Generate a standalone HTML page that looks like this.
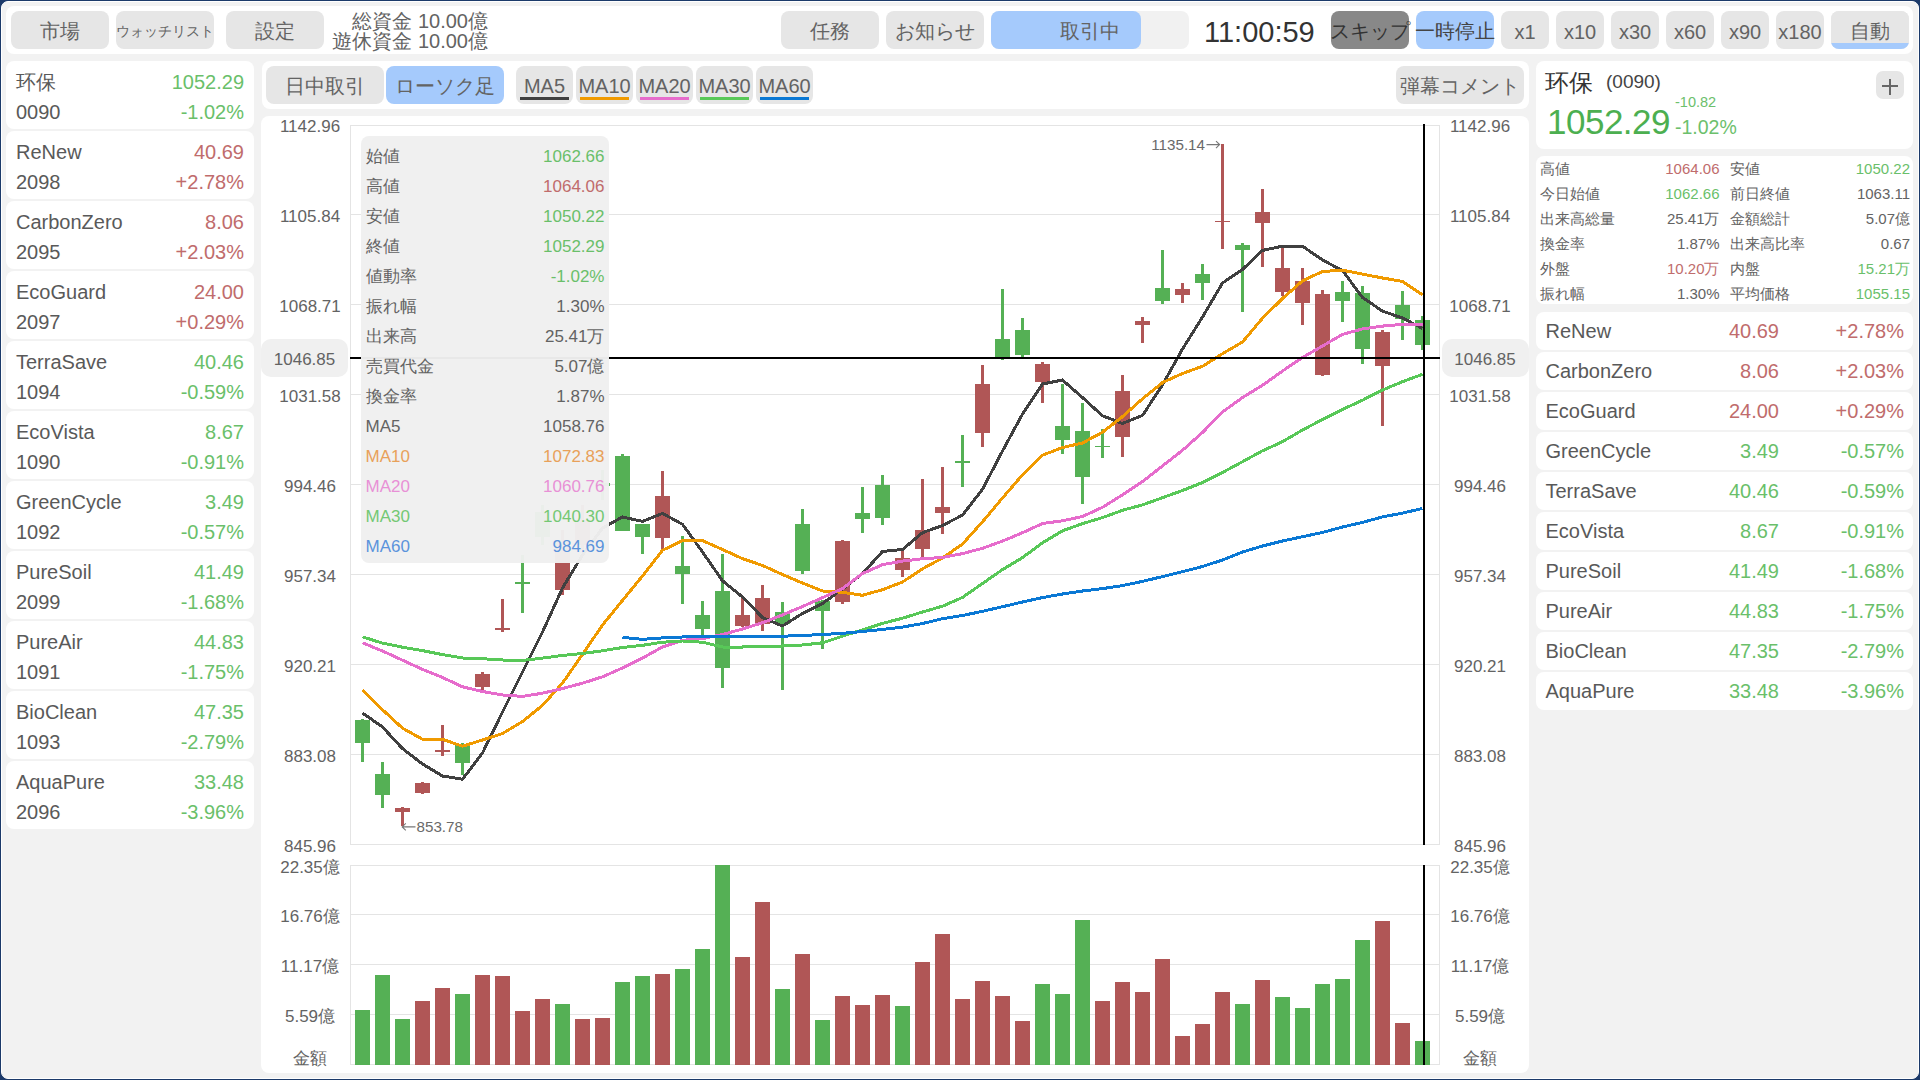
<!DOCTYPE html>
<html><head><meta charset="utf-8"><style>
*{margin:0;padding:0;box-sizing:border-box}
html,body{width:1920px;height:1080px;overflow:hidden;background:#1c3a6a}
body{position:relative;font-family:"Liberation Sans",sans-serif}
#app{position:absolute;left:1px;top:1px;width:1918px;height:1078px;background:#f2f2f2;border:1px solid #fff;border-radius:7px}
.b{position:absolute}
.t{position:absolute;white-space:nowrap}
svg{position:absolute;left:0;top:0}
</style></head><body><div id="app"></div>

<div class="b" style="left:6px;top:6px;width:1907px;height:48px;background:#fff;border-radius:8px;"></div>
<div class="b" style="left:11px;top:11px;width:98px;height:38px;background:#e6e6e6;border-radius:8px;"></div>
<div class="t" style="left:-9.0px;width:138px;text-align:center;top:18.2px;font-size:20px;line-height:26px;color:#636363;">市場</div>
<div class="b" style="left:116px;top:11px;width:98px;height:38px;background:#e6e6e6;border-radius:8px;"></div>
<div class="t" style="left:96.0px;width:138px;text-align:center;top:22.2px;font-size:14px;line-height:18px;color:#636363;">ウォッチリスト</div>
<div class="b" style="left:226px;top:11px;width:98px;height:38px;background:#e6e6e6;border-radius:8px;"></div>
<div class="t" style="left:206.0px;width:138px;text-align:center;top:18.2px;font-size:20px;line-height:26px;color:#636363;">設定</div>
<div class="t" style="left:88px;width:400px;text-align:right;top:11.0px;font-size:20px;line-height:20px;color:#636363;">総資金 10.00億</div>
<div class="t" style="left:88px;width:400px;text-align:right;top:31.0px;font-size:20px;line-height:20px;color:#636363;">遊休資金 10.00億</div>
<div class="b" style="left:781px;top:11px;width:98px;height:38px;background:#e6e6e6;border-radius:8px;"></div>
<div class="t" style="left:761.0px;width:138px;text-align:center;top:18.2px;font-size:20px;line-height:26px;color:#636363;">任務</div>
<div class="b" style="left:886px;top:11px;width:98px;height:38px;background:#e6e6e6;border-radius:8px;"></div>
<div class="t" style="left:866.0px;width:138px;text-align:center;top:18.2px;font-size:20px;line-height:26px;color:#636363;">お知らせ</div>
<div class="b" style="left:991px;top:11px;width:198px;height:38px;background:#f1f1f1;border-radius:8px;"></div>
<div class="b" style="left:991px;top:11px;width:150px;height:38px;background:#a5cafc;border-radius:8px;"></div>
<div class="t" style="left:989.5px;width:200px;text-align:center;top:18.2px;font-size:20px;line-height:26px;color:#636363;">取引中</div>
<div class="t" style="left:1204px;top:15.0px;font-size:29px;line-height:34px;color:#333;">11:00:59</div>
<div class="b" style="left:1331px;top:11px;width:78px;height:38px;background:#888;border-radius:8px;"></div>
<div class="t" style="left:1311.0px;width:118px;text-align:center;top:18.2px;font-size:20px;line-height:26px;color:#333;">スキップ</div>
<div class="b" style="left:1416px;top:11px;width:78px;height:38px;background:#a5cafc;border-radius:8px;"></div>
<div class="t" style="left:1396.0px;width:118px;text-align:center;top:18.2px;font-size:20px;line-height:26px;color:#444;">一時停止</div>
<div class="b" style="left:1501px;top:11px;width:48px;height:38px;background:#e6e6e6;border-radius:8px;"></div>
<div class="t" style="left:1481.0px;width:88px;text-align:center;top:19.2px;font-size:20px;line-height:26px;color:#636363;">x1</div>
<div class="b" style="left:1556px;top:11px;width:48px;height:38px;background:#e6e6e6;border-radius:8px;"></div>
<div class="t" style="left:1536.0px;width:88px;text-align:center;top:19.2px;font-size:20px;line-height:26px;color:#636363;">x10</div>
<div class="b" style="left:1611px;top:11px;width:48px;height:38px;background:#e6e6e6;border-radius:8px;"></div>
<div class="t" style="left:1591.0px;width:88px;text-align:center;top:19.2px;font-size:20px;line-height:26px;color:#636363;">x30</div>
<div class="b" style="left:1666px;top:11px;width:48px;height:38px;background:#e6e6e6;border-radius:8px;"></div>
<div class="t" style="left:1646.0px;width:88px;text-align:center;top:19.2px;font-size:20px;line-height:26px;color:#636363;">x60</div>
<div class="b" style="left:1721px;top:11px;width:48px;height:38px;background:#e6e6e6;border-radius:8px;"></div>
<div class="t" style="left:1701.0px;width:88px;text-align:center;top:19.2px;font-size:20px;line-height:26px;color:#636363;">x90</div>
<div class="b" style="left:1776px;top:11px;width:48px;height:38px;background:#e6e6e6;border-radius:8px;"></div>
<div class="t" style="left:1756.0px;width:88px;text-align:center;top:19.2px;font-size:20px;line-height:26px;color:#636363;">x180</div>
<div class="b" style="left:1831px;top:11px;width:78px;height:38px;background:#e6e6e6;border-radius:8px;"></div>
<div class="b" style="left:1831px;top:11px;width:78px;height:38px;background:#a5cafc;border-radius:8px;clip-path:inset(32px 0 0 0);"></div>
<div class="b" style="left:1831px;top:11px;width:78px;height:32px;background:#e6e6e6;border-radius:8px;border-bottom-left-radius:0;border-bottom-right-radius:0;"></div>
<div class="t" style="left:1820.0px;width:100px;text-align:center;top:18.2px;font-size:20px;line-height:26px;color:#636363;">自動</div>
<div class="b" style="left:6px;top:61px;width:248px;height:68px;background:#fff;border-radius:8px;"></div>
<div class="t" style="left:16px;top:68.5px;font-size:20px;line-height:26px;color:#595959;">环保</div>
<div class="t" style="left:16px;top:98.5px;font-size:20px;line-height:26px;color:#595959;">0090</div>
<div class="t" style="left:94px;width:150px;text-align:right;top:68.5px;font-size:20px;line-height:26px;color:#6abf6a;">1052.29</div>
<div class="t" style="left:94px;width:150px;text-align:right;top:98.5px;font-size:20px;line-height:26px;color:#6abf6a;">-1.02%</div>
<div class="b" style="left:6px;top:131px;width:248px;height:68px;background:#fff;border-radius:8px;"></div>
<div class="t" style="left:16px;top:138.5px;font-size:20px;line-height:26px;color:#595959;">ReNew</div>
<div class="t" style="left:16px;top:168.5px;font-size:20px;line-height:26px;color:#595959;">2098</div>
<div class="t" style="left:94px;width:150px;text-align:right;top:138.5px;font-size:20px;line-height:26px;color:#c06c6c;">40.69</div>
<div class="t" style="left:94px;width:150px;text-align:right;top:168.5px;font-size:20px;line-height:26px;color:#c06c6c;">+2.78%</div>
<div class="b" style="left:6px;top:201px;width:248px;height:68px;background:#fff;border-radius:8px;"></div>
<div class="t" style="left:16px;top:208.5px;font-size:20px;line-height:26px;color:#595959;">CarbonZero</div>
<div class="t" style="left:16px;top:238.5px;font-size:20px;line-height:26px;color:#595959;">2095</div>
<div class="t" style="left:94px;width:150px;text-align:right;top:208.5px;font-size:20px;line-height:26px;color:#c06c6c;">8.06</div>
<div class="t" style="left:94px;width:150px;text-align:right;top:238.5px;font-size:20px;line-height:26px;color:#c06c6c;">+2.03%</div>
<div class="b" style="left:6px;top:271px;width:248px;height:68px;background:#fff;border-radius:8px;"></div>
<div class="t" style="left:16px;top:278.5px;font-size:20px;line-height:26px;color:#595959;">EcoGuard</div>
<div class="t" style="left:16px;top:308.5px;font-size:20px;line-height:26px;color:#595959;">2097</div>
<div class="t" style="left:94px;width:150px;text-align:right;top:278.5px;font-size:20px;line-height:26px;color:#c06c6c;">24.00</div>
<div class="t" style="left:94px;width:150px;text-align:right;top:308.5px;font-size:20px;line-height:26px;color:#c06c6c;">+0.29%</div>
<div class="b" style="left:6px;top:341px;width:248px;height:68px;background:#fff;border-radius:8px;"></div>
<div class="t" style="left:16px;top:348.5px;font-size:20px;line-height:26px;color:#595959;">TerraSave</div>
<div class="t" style="left:16px;top:378.5px;font-size:20px;line-height:26px;color:#595959;">1094</div>
<div class="t" style="left:94px;width:150px;text-align:right;top:348.5px;font-size:20px;line-height:26px;color:#6abf6a;">40.46</div>
<div class="t" style="left:94px;width:150px;text-align:right;top:378.5px;font-size:20px;line-height:26px;color:#6abf6a;">-0.59%</div>
<div class="b" style="left:6px;top:411px;width:248px;height:68px;background:#fff;border-radius:8px;"></div>
<div class="t" style="left:16px;top:418.5px;font-size:20px;line-height:26px;color:#595959;">EcoVista</div>
<div class="t" style="left:16px;top:448.5px;font-size:20px;line-height:26px;color:#595959;">1090</div>
<div class="t" style="left:94px;width:150px;text-align:right;top:418.5px;font-size:20px;line-height:26px;color:#6abf6a;">8.67</div>
<div class="t" style="left:94px;width:150px;text-align:right;top:448.5px;font-size:20px;line-height:26px;color:#6abf6a;">-0.91%</div>
<div class="b" style="left:6px;top:481px;width:248px;height:68px;background:#fff;border-radius:8px;"></div>
<div class="t" style="left:16px;top:488.5px;font-size:20px;line-height:26px;color:#595959;">GreenCycle</div>
<div class="t" style="left:16px;top:518.5px;font-size:20px;line-height:26px;color:#595959;">1092</div>
<div class="t" style="left:94px;width:150px;text-align:right;top:488.5px;font-size:20px;line-height:26px;color:#6abf6a;">3.49</div>
<div class="t" style="left:94px;width:150px;text-align:right;top:518.5px;font-size:20px;line-height:26px;color:#6abf6a;">-0.57%</div>
<div class="b" style="left:6px;top:551px;width:248px;height:68px;background:#fff;border-radius:8px;"></div>
<div class="t" style="left:16px;top:558.5px;font-size:20px;line-height:26px;color:#595959;">PureSoil</div>
<div class="t" style="left:16px;top:588.5px;font-size:20px;line-height:26px;color:#595959;">2099</div>
<div class="t" style="left:94px;width:150px;text-align:right;top:558.5px;font-size:20px;line-height:26px;color:#6abf6a;">41.49</div>
<div class="t" style="left:94px;width:150px;text-align:right;top:588.5px;font-size:20px;line-height:26px;color:#6abf6a;">-1.68%</div>
<div class="b" style="left:6px;top:621px;width:248px;height:68px;background:#fff;border-radius:8px;"></div>
<div class="t" style="left:16px;top:628.5px;font-size:20px;line-height:26px;color:#595959;">PureAir</div>
<div class="t" style="left:16px;top:658.5px;font-size:20px;line-height:26px;color:#595959;">1091</div>
<div class="t" style="left:94px;width:150px;text-align:right;top:628.5px;font-size:20px;line-height:26px;color:#6abf6a;">44.83</div>
<div class="t" style="left:94px;width:150px;text-align:right;top:658.5px;font-size:20px;line-height:26px;color:#6abf6a;">-1.75%</div>
<div class="b" style="left:6px;top:691px;width:248px;height:68px;background:#fff;border-radius:8px;"></div>
<div class="t" style="left:16px;top:698.5px;font-size:20px;line-height:26px;color:#595959;">BioClean</div>
<div class="t" style="left:16px;top:728.5px;font-size:20px;line-height:26px;color:#595959;">1093</div>
<div class="t" style="left:94px;width:150px;text-align:right;top:698.5px;font-size:20px;line-height:26px;color:#6abf6a;">47.35</div>
<div class="t" style="left:94px;width:150px;text-align:right;top:728.5px;font-size:20px;line-height:26px;color:#6abf6a;">-2.79%</div>
<div class="b" style="left:6px;top:761px;width:248px;height:68px;background:#fff;border-radius:8px;"></div>
<div class="t" style="left:16px;top:768.5px;font-size:20px;line-height:26px;color:#595959;">AquaPure</div>
<div class="t" style="left:16px;top:798.5px;font-size:20px;line-height:26px;color:#595959;">2096</div>
<div class="t" style="left:94px;width:150px;text-align:right;top:768.5px;font-size:20px;line-height:26px;color:#6abf6a;">33.48</div>
<div class="t" style="left:94px;width:150px;text-align:right;top:798.5px;font-size:20px;line-height:26px;color:#6abf6a;">-3.96%</div>
<div class="b" style="left:262px;top:61px;width:1267px;height:48px;background:#fff;border-radius:8px;"></div>
<div class="b" style="left:266px;top:66px;width:118px;height:38px;background:#e6e6e6;border-radius:8px;"></div>
<div class="t" style="left:246.0px;width:158px;text-align:center;top:73.2px;font-size:20px;line-height:26px;color:#636363;">日中取引</div>
<div class="b" style="left:386px;top:66px;width:118px;height:38px;background:#a5cafc;border-radius:8px;"></div>
<div class="t" style="left:366.0px;width:158px;text-align:center;top:73.2px;font-size:20px;line-height:26px;color:#636363;">ローソク足</div>
<div class="b" style="left:516px;top:66px;width:57px;height:38px;background:#e6e6e6;border-radius:8px;"></div>
<div class="b" style="left:520px;top:97px;width:49px;height:3px;background:#404040;border-radius:0px;"></div>
<div class="t" style="left:504.5px;width:80px;text-align:center;top:73.3px;font-size:20px;line-height:26px;color:#636363;">MA5</div>
<div class="b" style="left:576px;top:66px;width:57px;height:38px;background:#e6e6e6;border-radius:8px;"></div>
<div class="b" style="left:580px;top:97px;width:49px;height:3px;background:#f09a00;border-radius:0px;"></div>
<div class="t" style="left:564.5px;width:80px;text-align:center;top:73.3px;font-size:20px;line-height:26px;color:#636363;">MA10</div>
<div class="b" style="left:636px;top:66px;width:57px;height:38px;background:#e6e6e6;border-radius:8px;"></div>
<div class="b" style="left:640px;top:97px;width:49px;height:3px;background:#e66ccc;border-radius:0px;"></div>
<div class="t" style="left:624.5px;width:80px;text-align:center;top:73.3px;font-size:20px;line-height:26px;color:#636363;">MA20</div>
<div class="b" style="left:696px;top:66px;width:57px;height:38px;background:#e6e6e6;border-radius:8px;"></div>
<div class="b" style="left:700px;top:97px;width:49px;height:3px;background:#58c858;border-radius:0px;"></div>
<div class="t" style="left:684.5px;width:80px;text-align:center;top:73.3px;font-size:20px;line-height:26px;color:#636363;">MA30</div>
<div class="b" style="left:756px;top:66px;width:57px;height:38px;background:#e6e6e6;border-radius:8px;"></div>
<div class="b" style="left:760px;top:97px;width:49px;height:3px;background:#0a78d4;border-radius:0px;"></div>
<div class="t" style="left:744.5px;width:80px;text-align:center;top:73.3px;font-size:20px;line-height:26px;color:#636363;">MA60</div>
<div class="b" style="left:1396px;top:66px;width:128px;height:38px;background:#e6e6e6;border-radius:8px;"></div>
<div class="t" style="left:1376.0px;width:168px;text-align:center;top:73.2px;font-size:20px;line-height:26px;color:#636363;">弾幕コメント</div>
<div class="b" style="left:261px;top:116px;width:1268px;height:957px;background:#fff;border-radius:8px;"></div>
<div class="b" style="left:1536px;top:61px;width:377px;height:88px;background:#fff;border-radius:8px;"></div>
<div class="t" style="left:1545px;top:66.5px;font-size:24px;line-height:31px;color:#333;">环保</div>
<div class="t" style="left:1606px;top:68.5px;font-size:19px;line-height:25px;color:#444;">(0090)</div>
<div class="t" style="left:1547px;top:102.3px;font-size:35px;line-height:40px;color:#4caf50;letter-spacing:-0.5px;">1052.29</div>
<div class="t" style="left:1675px;top:92.9px;font-size:14.5px;line-height:19px;color:#6cc06c;">-10.82</div>
<div class="t" style="left:1675px;top:115.1px;font-size:19.5px;line-height:25px;color:#6cc06c;">-1.02%</div>
<div class="b" style="left:1876px;top:71px;width:28px;height:28px;background:#e6e6e6;border-radius:7px;"></div>
<div class="b" style="left:1882px;top:85.3px;width:16px;height:1.4000000000000057px;background:#666;border-radius:0px;"></div>
<div class="b" style="left:1889.3px;top:78.5px;width:1.400000000000091px;height:16.0px;background:#666;border-radius:0px;"></div>
<div class="b" style="left:1536px;top:156px;width:377px;height:148px;background:#fff;border-radius:8px;"></div>
<div class="t" style="left:1540px;top:159.0px;font-size:15px;line-height:20px;color:#636363;">高値</div>
<div class="t" style="left:1599.5px;width:120px;text-align:right;top:159.0px;font-size:15px;line-height:20px;color:#c06c6c;">1064.06</div>
<div class="t" style="left:1730px;top:159.0px;font-size:15px;line-height:20px;color:#636363;">安値</div>
<div class="t" style="left:1790px;width:120px;text-align:right;top:159.0px;font-size:15px;line-height:20px;color:#6abf6a;">1050.22</div>
<div class="t" style="left:1540px;top:184.0px;font-size:15px;line-height:20px;color:#636363;">今日始値</div>
<div class="t" style="left:1599.5px;width:120px;text-align:right;top:184.0px;font-size:15px;line-height:20px;color:#6abf6a;">1062.66</div>
<div class="t" style="left:1730px;top:184.0px;font-size:15px;line-height:20px;color:#636363;">前日終値</div>
<div class="t" style="left:1790px;width:120px;text-align:right;top:184.0px;font-size:15px;line-height:20px;color:#636363;">1063.11</div>
<div class="t" style="left:1540px;top:209.0px;font-size:15px;line-height:20px;color:#636363;">出来高総量</div>
<div class="t" style="left:1599.5px;width:120px;text-align:right;top:209.0px;font-size:15px;line-height:20px;color:#636363;">25.41万</div>
<div class="t" style="left:1730px;top:209.0px;font-size:15px;line-height:20px;color:#636363;">金額総計</div>
<div class="t" style="left:1790px;width:120px;text-align:right;top:209.0px;font-size:15px;line-height:20px;color:#636363;">5.07億</div>
<div class="t" style="left:1540px;top:234.0px;font-size:15px;line-height:20px;color:#636363;">換金率</div>
<div class="t" style="left:1599.5px;width:120px;text-align:right;top:234.0px;font-size:15px;line-height:20px;color:#636363;">1.87%</div>
<div class="t" style="left:1730px;top:234.0px;font-size:15px;line-height:20px;color:#636363;">出来高比率</div>
<div class="t" style="left:1790px;width:120px;text-align:right;top:234.0px;font-size:15px;line-height:20px;color:#636363;">0.67</div>
<div class="t" style="left:1540px;top:259.0px;font-size:15px;line-height:20px;color:#636363;">外盤</div>
<div class="t" style="left:1599.5px;width:120px;text-align:right;top:259.0px;font-size:15px;line-height:20px;color:#c06c6c;">10.20万</div>
<div class="t" style="left:1730px;top:259.0px;font-size:15px;line-height:20px;color:#636363;">内盤</div>
<div class="t" style="left:1790px;width:120px;text-align:right;top:259.0px;font-size:15px;line-height:20px;color:#6abf6a;">15.21万</div>
<div class="t" style="left:1540px;top:284.0px;font-size:15px;line-height:20px;color:#636363;">振れ幅</div>
<div class="t" style="left:1599.5px;width:120px;text-align:right;top:284.0px;font-size:15px;line-height:20px;color:#636363;">1.30%</div>
<div class="t" style="left:1730px;top:284.0px;font-size:15px;line-height:20px;color:#636363;">平均価格</div>
<div class="t" style="left:1790px;width:120px;text-align:right;top:284.0px;font-size:15px;line-height:20px;color:#6abf6a;">1055.15</div>
<div class="b" style="left:1536px;top:311.5px;width:377px;height:38.0px;background:#fff;border-radius:8px;"></div>
<div class="t" style="left:1545.5px;top:318.0px;font-size:20px;line-height:26px;color:#595959;">ReNew</div>
<div class="t" style="left:1629px;width:150px;text-align:right;top:318.0px;font-size:20px;line-height:26px;color:#c06c6c;">40.69</div>
<div class="t" style="left:1754px;width:150px;text-align:right;top:318.0px;font-size:20px;line-height:26px;color:#c06c6c;">+2.78%</div>
<div class="b" style="left:1536px;top:351.5px;width:377px;height:38.0px;background:#fff;border-radius:8px;"></div>
<div class="t" style="left:1545.5px;top:358.0px;font-size:20px;line-height:26px;color:#595959;">CarbonZero</div>
<div class="t" style="left:1629px;width:150px;text-align:right;top:358.0px;font-size:20px;line-height:26px;color:#c06c6c;">8.06</div>
<div class="t" style="left:1754px;width:150px;text-align:right;top:358.0px;font-size:20px;line-height:26px;color:#c06c6c;">+2.03%</div>
<div class="b" style="left:1536px;top:391.5px;width:377px;height:38.0px;background:#fff;border-radius:8px;"></div>
<div class="t" style="left:1545.5px;top:398.0px;font-size:20px;line-height:26px;color:#595959;">EcoGuard</div>
<div class="t" style="left:1629px;width:150px;text-align:right;top:398.0px;font-size:20px;line-height:26px;color:#c06c6c;">24.00</div>
<div class="t" style="left:1754px;width:150px;text-align:right;top:398.0px;font-size:20px;line-height:26px;color:#c06c6c;">+0.29%</div>
<div class="b" style="left:1536px;top:431.5px;width:377px;height:38.0px;background:#fff;border-radius:8px;"></div>
<div class="t" style="left:1545.5px;top:438.0px;font-size:20px;line-height:26px;color:#595959;">GreenCycle</div>
<div class="t" style="left:1629px;width:150px;text-align:right;top:438.0px;font-size:20px;line-height:26px;color:#6abf6a;">3.49</div>
<div class="t" style="left:1754px;width:150px;text-align:right;top:438.0px;font-size:20px;line-height:26px;color:#6abf6a;">-0.57%</div>
<div class="b" style="left:1536px;top:471.5px;width:377px;height:38.0px;background:#fff;border-radius:8px;"></div>
<div class="t" style="left:1545.5px;top:478.0px;font-size:20px;line-height:26px;color:#595959;">TerraSave</div>
<div class="t" style="left:1629px;width:150px;text-align:right;top:478.0px;font-size:20px;line-height:26px;color:#6abf6a;">40.46</div>
<div class="t" style="left:1754px;width:150px;text-align:right;top:478.0px;font-size:20px;line-height:26px;color:#6abf6a;">-0.59%</div>
<div class="b" style="left:1536px;top:511.5px;width:377px;height:38.0px;background:#fff;border-radius:8px;"></div>
<div class="t" style="left:1545.5px;top:518.0px;font-size:20px;line-height:26px;color:#595959;">EcoVista</div>
<div class="t" style="left:1629px;width:150px;text-align:right;top:518.0px;font-size:20px;line-height:26px;color:#6abf6a;">8.67</div>
<div class="t" style="left:1754px;width:150px;text-align:right;top:518.0px;font-size:20px;line-height:26px;color:#6abf6a;">-0.91%</div>
<div class="b" style="left:1536px;top:551.5px;width:377px;height:38.0px;background:#fff;border-radius:8px;"></div>
<div class="t" style="left:1545.5px;top:558.0px;font-size:20px;line-height:26px;color:#595959;">PureSoil</div>
<div class="t" style="left:1629px;width:150px;text-align:right;top:558.0px;font-size:20px;line-height:26px;color:#6abf6a;">41.49</div>
<div class="t" style="left:1754px;width:150px;text-align:right;top:558.0px;font-size:20px;line-height:26px;color:#6abf6a;">-1.68%</div>
<div class="b" style="left:1536px;top:591.5px;width:377px;height:38.0px;background:#fff;border-radius:8px;"></div>
<div class="t" style="left:1545.5px;top:598.0px;font-size:20px;line-height:26px;color:#595959;">PureAir</div>
<div class="t" style="left:1629px;width:150px;text-align:right;top:598.0px;font-size:20px;line-height:26px;color:#6abf6a;">44.83</div>
<div class="t" style="left:1754px;width:150px;text-align:right;top:598.0px;font-size:20px;line-height:26px;color:#6abf6a;">-1.75%</div>
<div class="b" style="left:1536px;top:631.5px;width:377px;height:38.0px;background:#fff;border-radius:8px;"></div>
<div class="t" style="left:1545.5px;top:638.0px;font-size:20px;line-height:26px;color:#595959;">BioClean</div>
<div class="t" style="left:1629px;width:150px;text-align:right;top:638.0px;font-size:20px;line-height:26px;color:#6abf6a;">47.35</div>
<div class="t" style="left:1754px;width:150px;text-align:right;top:638.0px;font-size:20px;line-height:26px;color:#6abf6a;">-2.79%</div>
<div class="b" style="left:1536px;top:671.5px;width:377px;height:38.0px;background:#fff;border-radius:8px;"></div>
<div class="t" style="left:1545.5px;top:678.0px;font-size:20px;line-height:26px;color:#595959;">AquaPure</div>
<div class="t" style="left:1629px;width:150px;text-align:right;top:678.0px;font-size:20px;line-height:26px;color:#6abf6a;">33.48</div>
<div class="t" style="left:1754px;width:150px;text-align:right;top:678.0px;font-size:20px;line-height:26px;color:#6abf6a;">-3.96%</div>
<svg width="1920" height="1080" viewBox="0 0 1920 1080" shape-rendering="crispEdges">
<rect x="350" y="125" width="1090" height="1" fill="#e4e4e4"/>
<rect x="350" y="214" width="1090" height="1" fill="#e4e4e4"/>
<rect x="350" y="304" width="1090" height="1" fill="#e4e4e4"/>
<rect x="350" y="394" width="1090" height="1" fill="#e4e4e4"/>
<rect x="350" y="484" width="1090" height="1" fill="#e4e4e4"/>
<rect x="350" y="574" width="1090" height="1" fill="#e4e4e4"/>
<rect x="350" y="664" width="1090" height="1" fill="#e4e4e4"/>
<rect x="350" y="754" width="1090" height="1" fill="#e4e4e4"/>
<rect x="350" y="844" width="1090" height="1" fill="#e4e4e4"/>
<rect x="350" y="125" width="1" height="720" fill="#e4e4e4"/>
<rect x="1439" y="125" width="1" height="720" fill="#e4e4e4"/>
<rect x="350" y="865" width="1090" height="1" fill="#e4e4e4"/>
<rect x="350" y="914" width="1090" height="1" fill="#e4e4e4"/>
<rect x="350" y="964" width="1090" height="1" fill="#e4e4e4"/>
<rect x="350" y="1014" width="1090" height="1" fill="#e4e4e4"/>
<rect x="350" y="1064" width="1090" height="1" fill="#e4e4e4"/>
<rect x="350" y="865" width="1" height="200" fill="#e4e4e4"/>
<rect x="1439" y="865" width="1" height="200" fill="#e4e4e4"/>
<rect x="355.0" y="1010" width="15" height="54.5" fill="#55b055"/>
<rect x="375.0" y="975" width="15" height="89.5" fill="#55b055"/>
<rect x="395.0" y="1019" width="15" height="45.5" fill="#55b055"/>
<rect x="415.0" y="1001" width="15" height="63.5" fill="#b05656"/>
<rect x="435.0" y="988" width="15" height="76.5" fill="#b05656"/>
<rect x="455.0" y="994" width="15" height="70.5" fill="#55b055"/>
<rect x="475.0" y="975" width="15" height="89.5" fill="#b05656"/>
<rect x="495.0" y="976" width="15" height="88.5" fill="#b05656"/>
<rect x="515.0" y="1011" width="15" height="53.5" fill="#b05656"/>
<rect x="535.0" y="999" width="15" height="65.5" fill="#b05656"/>
<rect x="555.0" y="1004" width="15" height="60.5" fill="#55b055"/>
<rect x="575.0" y="1019" width="15" height="45.5" fill="#b05656"/>
<rect x="595.0" y="1018" width="15" height="46.5" fill="#b05656"/>
<rect x="615.0" y="982" width="15" height="82.5" fill="#55b055"/>
<rect x="635.0" y="976" width="15" height="88.5" fill="#55b055"/>
<rect x="655.0" y="974" width="15" height="90.5" fill="#b05656"/>
<rect x="675.0" y="969" width="15" height="95.5" fill="#55b055"/>
<rect x="695.0" y="949" width="15" height="115.5" fill="#55b055"/>
<rect x="715.0" y="865" width="15" height="199.5" fill="#55b055"/>
<rect x="735.0" y="957" width="15" height="107.5" fill="#b05656"/>
<rect x="755.0" y="902" width="15" height="162.5" fill="#b05656"/>
<rect x="775.0" y="989" width="15" height="75.5" fill="#55b055"/>
<rect x="795.0" y="954" width="15" height="110.5" fill="#b05656"/>
<rect x="815.0" y="1020" width="15" height="44.5" fill="#55b055"/>
<rect x="835.0" y="996" width="15" height="68.5" fill="#b05656"/>
<rect x="855.0" y="1005" width="15" height="59.5" fill="#b05656"/>
<rect x="875.0" y="995" width="15" height="69.5" fill="#b05656"/>
<rect x="895.0" y="1006" width="15" height="58.5" fill="#55b055"/>
<rect x="915.0" y="962" width="15" height="102.5" fill="#b05656"/>
<rect x="935.0" y="934" width="15" height="130.5" fill="#b05656"/>
<rect x="955.0" y="999" width="15" height="65.5" fill="#b05656"/>
<rect x="975.0" y="981" width="15" height="83.5" fill="#b05656"/>
<rect x="995.0" y="996" width="15" height="68.5" fill="#b05656"/>
<rect x="1015.0" y="1021" width="15" height="43.5" fill="#b05656"/>
<rect x="1035.0" y="984" width="15" height="80.5" fill="#55b055"/>
<rect x="1055.0" y="994" width="15" height="70.5" fill="#55b055"/>
<rect x="1075.0" y="920" width="15" height="144.5" fill="#55b055"/>
<rect x="1095.0" y="1001" width="15" height="63.5" fill="#b05656"/>
<rect x="1115.0" y="982" width="15" height="82.5" fill="#b05656"/>
<rect x="1135.0" y="992" width="15" height="72.5" fill="#b05656"/>
<rect x="1155.0" y="959" width="15" height="105.5" fill="#b05656"/>
<rect x="1175.0" y="1036" width="15" height="28.5" fill="#b05656"/>
<rect x="1195.0" y="1024" width="15" height="40.5" fill="#b05656"/>
<rect x="1215.0" y="992" width="15" height="72.5" fill="#b05656"/>
<rect x="1235.0" y="1004" width="15" height="60.5" fill="#55b055"/>
<rect x="1255.0" y="980" width="15" height="84.5" fill="#b05656"/>
<rect x="1275.0" y="997" width="15" height="67.5" fill="#55b055"/>
<rect x="1295.0" y="1008" width="15" height="56.5" fill="#55b055"/>
<rect x="1315.0" y="984" width="15" height="80.5" fill="#55b055"/>
<rect x="1335.0" y="979" width="15" height="85.5" fill="#55b055"/>
<rect x="1355.0" y="940" width="15" height="124.5" fill="#55b055"/>
<rect x="1375.0" y="921" width="15" height="143.5" fill="#b05656"/>
<rect x="1395.0" y="1023" width="15" height="41.5" fill="#b05656"/>
<rect x="1415.0" y="1041" width="15" height="23.5" fill="#55b055"/>
<rect x="361.0" y="719" width="3" height="43.0" fill="#55b055"/>
<rect x="355.0" y="720" width="15" height="23.0" fill="#55b055"/>
<rect x="381.0" y="762" width="3" height="46.0" fill="#55b055"/>
<rect x="375.0" y="774" width="15" height="21.0" fill="#55b055"/>
<rect x="401.0" y="807" width="3" height="19.0" fill="#b05656"/>
<rect x="395.0" y="808" width="15" height="4.0" fill="#b05656"/>
<rect x="421.0" y="782" width="3" height="12.0" fill="#b05656"/>
<rect x="415.0" y="783" width="15" height="10.0" fill="#b05656"/>
<rect x="441.0" y="725" width="3" height="31.0" fill="#b05656"/>
<rect x="435.0" y="750" width="15" height="2.0" fill="#b05656"/>
<rect x="461.0" y="743" width="3" height="32.0" fill="#55b055"/>
<rect x="455.0" y="745" width="15" height="18.0" fill="#55b055"/>
<rect x="481.0" y="672" width="3" height="18.0" fill="#b05656"/>
<rect x="475.0" y="674" width="15" height="13.0" fill="#b05656"/>
<rect x="501.0" y="599" width="3" height="33.0" fill="#b05656"/>
<rect x="495.0" y="628" width="15" height="2.0" fill="#b05656"/>
<rect x="521.0" y="555" width="3" height="58.0" fill="#55b055"/>
<rect x="515.0" y="582" width="15" height="2.0" fill="#55b055"/>
<rect x="541.0" y="505" width="3" height="40.0" fill="#55b055"/>
<rect x="535.0" y="512" width="15" height="25.0" fill="#55b055"/>
<rect x="561.0" y="530" width="3" height="65.0" fill="#b05656"/>
<rect x="555.0" y="540" width="15" height="50.0" fill="#b05656"/>
<rect x="581.0" y="505" width="3" height="45.0" fill="#b05656"/>
<rect x="575.0" y="520" width="15" height="25.0" fill="#b05656"/>
<rect x="601.0" y="470" width="3" height="30.0" fill="#55b055"/>
<rect x="595.0" y="483" width="15" height="3.0" fill="#55b055"/>
<rect x="621.0" y="454" width="3" height="77.0" fill="#55b055"/>
<rect x="615.0" y="456" width="15" height="75.0" fill="#55b055"/>
<rect x="641.0" y="524" width="3" height="30.0" fill="#55b055"/>
<rect x="635.0" y="524" width="15" height="13.0" fill="#55b055"/>
<rect x="661.0" y="471" width="3" height="79.0" fill="#b05656"/>
<rect x="655.0" y="496" width="15" height="42.0" fill="#b05656"/>
<rect x="681.0" y="536" width="3" height="68.0" fill="#55b055"/>
<rect x="675.0" y="566" width="15" height="8.0" fill="#55b055"/>
<rect x="701.0" y="601" width="3" height="33.5" fill="#55b055"/>
<rect x="695.0" y="615" width="15" height="13.5" fill="#55b055"/>
<rect x="721.0" y="554" width="3" height="133.5" fill="#55b055"/>
<rect x="715.0" y="591" width="15" height="76.5" fill="#55b055"/>
<rect x="741.0" y="598" width="3" height="29.0" fill="#b05656"/>
<rect x="735.0" y="615" width="15" height="11.0" fill="#b05656"/>
<rect x="761.0" y="585" width="3" height="46.0" fill="#b05656"/>
<rect x="755.0" y="598" width="15" height="26.0" fill="#b05656"/>
<rect x="781.0" y="602" width="3" height="88.0" fill="#55b055"/>
<rect x="775.0" y="612" width="15" height="12.0" fill="#55b055"/>
<rect x="801.0" y="509" width="3" height="65.0" fill="#55b055"/>
<rect x="795.0" y="524" width="15" height="47.0" fill="#55b055"/>
<rect x="821.0" y="600" width="3" height="49.0" fill="#55b055"/>
<rect x="815.0" y="601" width="15" height="9.5" fill="#55b055"/>
<rect x="841.0" y="540" width="3" height="64.0" fill="#b05656"/>
<rect x="835.0" y="541" width="15" height="61.0" fill="#b05656"/>
<rect x="861.0" y="487" width="3" height="46.0" fill="#55b055"/>
<rect x="855.0" y="513" width="15" height="6.0" fill="#55b055"/>
<rect x="881.0" y="475" width="3" height="50.0" fill="#55b055"/>
<rect x="875.0" y="485" width="15" height="32.5" fill="#55b055"/>
<rect x="901.0" y="551" width="3" height="26.0" fill="#b05656"/>
<rect x="895.0" y="558" width="15" height="12.0" fill="#b05656"/>
<rect x="921.0" y="478.5" width="3" height="79.5" fill="#b05656"/>
<rect x="915.0" y="530" width="15" height="19.0" fill="#b05656"/>
<rect x="941.0" y="467" width="3" height="67.0" fill="#b05656"/>
<rect x="935.0" y="507" width="15" height="6.0" fill="#b05656"/>
<rect x="961.0" y="435" width="3" height="52.0" fill="#55b055"/>
<rect x="955.0" y="460.5" width="15" height="2.0" fill="#55b055"/>
<rect x="981.0" y="365" width="3" height="82.0" fill="#b05656"/>
<rect x="975.0" y="384" width="15" height="49.0" fill="#b05656"/>
<rect x="1001.0" y="289" width="3" height="71.0" fill="#55b055"/>
<rect x="995.0" y="339" width="15" height="20.0" fill="#55b055"/>
<rect x="1021.0" y="318" width="3" height="39.0" fill="#55b055"/>
<rect x="1015.0" y="330" width="15" height="25.0" fill="#55b055"/>
<rect x="1041.0" y="362" width="3" height="41.0" fill="#b05656"/>
<rect x="1035.0" y="364" width="15" height="18.0" fill="#b05656"/>
<rect x="1061.0" y="384" width="3" height="70.0" fill="#55b055"/>
<rect x="1055.0" y="426" width="15" height="14.0" fill="#55b055"/>
<rect x="1081.0" y="403" width="3" height="101.0" fill="#55b055"/>
<rect x="1075.0" y="431" width="15" height="46.0" fill="#55b055"/>
<rect x="1101.0" y="429" width="3" height="28.5" fill="#55b055"/>
<rect x="1095.0" y="445.5" width="15" height="1.5" fill="#55b055"/>
<rect x="1121.0" y="375" width="3" height="82.0" fill="#b05656"/>
<rect x="1115.0" y="391" width="15" height="46.0" fill="#b05656"/>
<rect x="1141.0" y="317" width="3" height="26.0" fill="#b05656"/>
<rect x="1135.0" y="321" width="15" height="3.5" fill="#b05656"/>
<rect x="1161.0" y="250" width="3" height="54.0" fill="#55b055"/>
<rect x="1155.0" y="288" width="15" height="13.0" fill="#55b055"/>
<rect x="1181.0" y="283" width="3" height="20.0" fill="#b05656"/>
<rect x="1175.0" y="289" width="15" height="5.5" fill="#b05656"/>
<rect x="1201.0" y="264" width="3" height="36.0" fill="#55b055"/>
<rect x="1195.0" y="274" width="15" height="8.5" fill="#55b055"/>
<rect x="1221.0" y="144" width="3" height="105.0" fill="#b05656"/>
<rect x="1215.0" y="220.5" width="15" height="1.5" fill="#b05656"/>
<rect x="1241.0" y="243" width="3" height="69.0" fill="#55b055"/>
<rect x="1235.0" y="245" width="15" height="5.0" fill="#55b055"/>
<rect x="1261.0" y="189" width="3" height="78.0" fill="#b05656"/>
<rect x="1255.0" y="212" width="15" height="11.0" fill="#b05656"/>
<rect x="1281.0" y="248" width="3" height="48.0" fill="#b05656"/>
<rect x="1275.0" y="268" width="15" height="24.0" fill="#b05656"/>
<rect x="1301.0" y="268" width="3" height="57.0" fill="#b05656"/>
<rect x="1295.0" y="281" width="15" height="22.0" fill="#b05656"/>
<rect x="1321.0" y="290" width="3" height="86.0" fill="#b05656"/>
<rect x="1315.0" y="294" width="15" height="81.0" fill="#b05656"/>
<rect x="1341.0" y="281" width="3" height="41.0" fill="#55b055"/>
<rect x="1335.0" y="292" width="15" height="9.0" fill="#55b055"/>
<rect x="1361.0" y="286" width="3" height="78.0" fill="#55b055"/>
<rect x="1355.0" y="293" width="15" height="56.0" fill="#55b055"/>
<rect x="1381.0" y="330" width="3" height="96.0" fill="#b05656"/>
<rect x="1375.0" y="332" width="15" height="34.0" fill="#b05656"/>
<rect x="1401.0" y="291" width="3" height="49.0" fill="#55b055"/>
<rect x="1395.0" y="304.5" width="15" height="14.5" fill="#55b055"/>
<rect x="1421.0" y="316" width="3" height="34.0" fill="#55b055"/>
<rect x="1415.0" y="320" width="15" height="25.0" fill="#55b055"/>
</svg>
<svg width="1920" height="1080" viewBox="0 0 1920 1080">
<polyline points="362.5,713 382.5,727 402.5,748.6 422.5,764 442.5,776 462.5,779.3 482.5,753 502.5,712 522.5,672 542.5,632 562.5,588 582.5,555 602.5,528 622.5,517 642.5,521.4 662.5,513.4 682.5,524.3 702.5,552 722.5,580.8 742.5,597 762.5,617.5 782.5,626 802.5,613.5 822.5,603.5 842.5,589 862.5,573.6 882.5,551.5 902.5,549.5 922.5,532.7 942.5,525.5 962.5,515.1 982.5,489.3 1002.5,451 1022.5,414 1042.5,384 1062.5,380 1082.5,397.5 1102.5,415.8 1122.5,423.5 1142.5,415.4 1162.5,385 1182.5,349 1202.5,317 1222.5,283 1242.5,269.5 1262.5,250.4 1282.5,246.2 1302.5,246.2 1322.5,260 1342.5,270.6 1362.5,297.4 1382.5,311.2 1402.5,318 1422.5,328.4" fill="none" stroke="#404040" stroke-width="3" stroke-linejoin="round" stroke-linecap="butt" shape-rendering="crispEdges"/>
<polyline points="362.5,713 382.5,727 402.5,748.6 422.5,764 442.5,776 462.5,779.3 482.5,753 502.5,712 522.5,672 542.5,632 562.5,588 582.5,555 602.5,528 622.5,517 642.5,521.4 662.5,513.4 682.5,524.3 702.5,552 722.5,580.8 742.5,597 762.5,617.5 782.5,626 802.5,613.5 822.5,603.5 842.5,589 862.5,573.6 882.5,551.5 902.5,549.5 922.5,532.7 942.5,525.5 962.5,515.1 982.5,489.3 1002.5,451 1022.5,414 1042.5,384 1062.5,380 1082.5,397.5 1102.5,415.8 1122.5,423.5 1142.5,415.4 1162.5,385 1182.5,349 1202.5,317 1222.5,283 1242.5,269.5 1262.5,250.4 1282.5,246.2 1302.5,246.2 1322.5,260 1342.5,270.6 1362.5,297.4 1382.5,311.2 1402.5,318 1422.5,328.4" fill="none" stroke="#404040" stroke-width="1.2" stroke-linejoin="round" stroke-linecap="butt" shape-rendering="crispEdges"/>
<polyline points="362.5,690.3 382.5,709.7 402.5,728.2 422.5,739.3 442.5,739.3 462.5,746.2 482.5,740 502.5,733.5 522.5,721.5 542.5,705.4 562.5,683.1 582.5,654.4 602.5,625 622.5,600.4 642.5,576 662.5,550.3 682.5,540.6 702.5,540.6 722.5,549.5 742.5,558.6 762.5,565.5 782.5,574.5 802.5,583 822.5,591 842.5,592.3 862.5,595.3 882.5,589.7 902.5,582 922.5,568.8 942.5,558 962.5,544 982.5,521.8 1002.5,498 1022.5,474.8 1042.5,455.2 1062.5,447.5 1082.5,443 1102.5,432.2 1122.5,416.6 1142.5,398.8 1162.5,382.6 1182.5,373.5 1202.5,366.3 1222.5,353.7 1242.5,342 1262.5,318.2 1282.5,298.5 1302.5,280.8 1322.5,271.5 1342.5,270.2 1362.5,274.1 1382.5,278 1402.5,281.4 1422.5,294.9" fill="none" stroke="#f09a00" stroke-width="3" stroke-linejoin="round" stroke-linecap="butt" shape-rendering="crispEdges"/>
<polyline points="362.5,690.3 382.5,709.7 402.5,728.2 422.5,739.3 442.5,739.3 462.5,746.2 482.5,740 502.5,733.5 522.5,721.5 542.5,705.4 562.5,683.1 582.5,654.4 602.5,625 622.5,600.4 642.5,576 662.5,550.3 682.5,540.6 702.5,540.6 722.5,549.5 742.5,558.6 762.5,565.5 782.5,574.5 802.5,583 822.5,591 842.5,592.3 862.5,595.3 882.5,589.7 902.5,582 922.5,568.8 942.5,558 962.5,544 982.5,521.8 1002.5,498 1022.5,474.8 1042.5,455.2 1062.5,447.5 1082.5,443 1102.5,432.2 1122.5,416.6 1142.5,398.8 1162.5,382.6 1182.5,373.5 1202.5,366.3 1222.5,353.7 1242.5,342 1262.5,318.2 1282.5,298.5 1302.5,280.8 1322.5,271.5 1342.5,270.2 1362.5,274.1 1382.5,278 1402.5,281.4 1422.5,294.9" fill="none" stroke="#f09a00" stroke-width="1.2" stroke-linejoin="round" stroke-linecap="butt" shape-rendering="crispEdges"/>
<polyline points="362.5,642.8 382.5,651 402.5,660.2 422.5,669.4 442.5,677.5 462.5,686.8 482.5,691.5 502.5,695 522.5,696.4 542.5,693.2 562.5,688.5 582.5,683.2 602.5,676.8 622.5,668 642.5,658 662.5,647 682.5,640.3 702.5,638.6 722.5,634.5 742.5,629 762.5,622.7 782.5,614.9 802.5,606.5 822.5,597.7 842.5,588.5 862.5,573.6 882.5,564.7 902.5,561.1 922.5,558.7 942.5,557.5 962.5,553.6 982.5,548.3 1002.5,541.1 1022.5,532.7 1042.5,523.5 1062.5,520.8 1082.5,516.5 1102.5,507.3 1122.5,494.8 1142.5,481.6 1162.5,465.9 1182.5,450.3 1202.5,432.5 1222.5,412 1242.5,397.5 1262.5,385.3 1282.5,371 1302.5,357.5 1322.5,346 1342.5,334.4 1362.5,328.9 1382.5,326.1 1402.5,324.4 1422.5,324.4" fill="none" stroke="#e66ccc" stroke-width="3" stroke-linejoin="round" stroke-linecap="butt" shape-rendering="crispEdges"/>
<polyline points="362.5,642.8 382.5,651 402.5,660.2 422.5,669.4 442.5,677.5 462.5,686.8 482.5,691.5 502.5,695 522.5,696.4 542.5,693.2 562.5,688.5 582.5,683.2 602.5,676.8 622.5,668 642.5,658 662.5,647 682.5,640.3 702.5,638.6 722.5,634.5 742.5,629 762.5,622.7 782.5,614.9 802.5,606.5 822.5,597.7 842.5,588.5 862.5,573.6 882.5,564.7 902.5,561.1 922.5,558.7 942.5,557.5 962.5,553.6 982.5,548.3 1002.5,541.1 1022.5,532.7 1042.5,523.5 1062.5,520.8 1082.5,516.5 1102.5,507.3 1122.5,494.8 1142.5,481.6 1162.5,465.9 1182.5,450.3 1202.5,432.5 1222.5,412 1242.5,397.5 1262.5,385.3 1282.5,371 1302.5,357.5 1322.5,346 1342.5,334.4 1362.5,328.9 1382.5,326.1 1402.5,324.4 1422.5,324.4" fill="none" stroke="#e66ccc" stroke-width="1.2" stroke-linejoin="round" stroke-linecap="butt" shape-rendering="crispEdges"/>
<polyline points="362.5,636.9 382.5,643.1 402.5,647.2 422.5,650.6 442.5,654.6 462.5,658 482.5,658.7 502.5,660 522.5,660.4 542.5,658.1 562.5,655.4 582.5,653.5 602.5,650.8 622.5,647.5 642.5,645.3 662.5,642.2 682.5,641 702.5,642.2 722.5,647 742.5,647 762.5,646.5 782.5,646 802.5,645 822.5,642.8 842.5,636.1 862.5,629.9 882.5,623.4 902.5,618.2 922.5,612 942.5,606.2 962.5,597.4 982.5,583.5 1002.5,569.6 1022.5,557.6 1042.5,542.8 1062.5,530.8 1082.5,523.6 1102.5,517.6 1122.5,510.3 1142.5,504.9 1162.5,497.7 1182.5,490.5 1202.5,482.5 1222.5,472.5 1242.5,461.7 1262.5,450.8 1282.5,441.7 1302.5,430 1322.5,419.5 1342.5,409.4 1362.5,400.2 1382.5,390 1402.5,381.7 1422.5,374.3" fill="none" stroke="#58c858" stroke-width="3" stroke-linejoin="round" stroke-linecap="butt" shape-rendering="crispEdges"/>
<polyline points="362.5,636.9 382.5,643.1 402.5,647.2 422.5,650.6 442.5,654.6 462.5,658 482.5,658.7 502.5,660 522.5,660.4 542.5,658.1 562.5,655.4 582.5,653.5 602.5,650.8 622.5,647.5 642.5,645.3 662.5,642.2 682.5,641 702.5,642.2 722.5,647 742.5,647 762.5,646.5 782.5,646 802.5,645 822.5,642.8 842.5,636.1 862.5,629.9 882.5,623.4 902.5,618.2 922.5,612 942.5,606.2 962.5,597.4 982.5,583.5 1002.5,569.6 1022.5,557.6 1042.5,542.8 1062.5,530.8 1082.5,523.6 1102.5,517.6 1122.5,510.3 1142.5,504.9 1162.5,497.7 1182.5,490.5 1202.5,482.5 1222.5,472.5 1242.5,461.7 1262.5,450.8 1282.5,441.7 1302.5,430 1322.5,419.5 1342.5,409.4 1362.5,400.2 1382.5,390 1402.5,381.7 1422.5,374.3" fill="none" stroke="#58c858" stroke-width="1.2" stroke-linejoin="round" stroke-linecap="butt" shape-rendering="crispEdges"/>
<polyline points="622.5,637.4 642.5,639.3 662.5,637.9 682.5,637 702.5,636.2 722.5,636.2 742.5,636.2 762.5,636.2 782.5,636.2 802.5,635.5 822.5,634.5 842.5,633.3 862.5,631.5 882.5,629.4 902.5,627.1 922.5,623.5 942.5,618.7 962.5,615.5 982.5,611.3 1002.5,606.7 1022.5,602 1042.5,597.6 1062.5,594 1082.5,591 1102.5,588.6 1122.5,585.6 1142.5,581.4 1162.5,576.6 1182.5,571.7 1202.5,566.5 1222.5,560 1242.5,552 1262.5,546 1282.5,541 1302.5,536.7 1322.5,532.5 1342.5,527 1362.5,522.4 1382.5,516.9 1402.5,513.1 1422.5,508.5" fill="none" stroke="#0a78d4" stroke-width="3" stroke-linejoin="round" stroke-linecap="butt" shape-rendering="crispEdges"/>
<polyline points="622.5,637.4 642.5,639.3 662.5,637.9 682.5,637 702.5,636.2 722.5,636.2 742.5,636.2 762.5,636.2 782.5,636.2 802.5,635.5 822.5,634.5 842.5,633.3 862.5,631.5 882.5,629.4 902.5,627.1 922.5,623.5 942.5,618.7 962.5,615.5 982.5,611.3 1002.5,606.7 1022.5,602 1042.5,597.6 1062.5,594 1082.5,591 1102.5,588.6 1122.5,585.6 1142.5,581.4 1162.5,576.6 1182.5,571.7 1202.5,566.5 1222.5,560 1242.5,552 1262.5,546 1282.5,541 1302.5,536.7 1322.5,532.5 1342.5,527 1362.5,522.4 1382.5,516.9 1402.5,513.1 1422.5,508.5" fill="none" stroke="#0a78d4" stroke-width="1.2" stroke-linejoin="round" stroke-linecap="butt" shape-rendering="crispEdges"/>
</svg>
<div class="b" style="left:350px;top:357px;width:1090px;height:2px;background:#000;border-radius:0px;"></div>
<div class="b" style="left:1423px;top:124px;width:2px;height:721px;background:#000;border-radius:0px;"></div>
<div class="b" style="left:1423px;top:865px;width:2px;height:200px;background:#000;border-radius:0px;"></div>
<div class="t" style="left:1105px;width:100px;text-align:right;top:135.0px;font-size:15.2px;line-height:20px;color:#6a6a6a;">1135.14</div>
<div class="t" style="left:416.5px;top:817.0px;font-size:15.2px;line-height:20px;color:#6a6a6a;">853.78</div>
<svg width="1920" height="1080" viewBox="0 0 1920 1080"><path d="M1206.5 144.6H1219.5M1216 141.1L1219.6 144.6L1216 148.1" fill="none" stroke="#777" stroke-width="1.1"/><path d="M402.2 826.9H415.5M405.8 823.4L402.2 826.9L405.8 830.4" fill="none" stroke="#777" stroke-width="1.1"/></svg>
<div class="t" style="left:265.0px;width:90px;text-align:center;top:115.5px;font-size:17px;line-height:22px;color:#636363;">1142.96</div>
<div class="t" style="left:1435.0px;width:90px;text-align:center;top:115.5px;font-size:17px;line-height:22px;color:#636363;">1142.96</div>
<div class="t" style="left:265.0px;width:90px;text-align:center;top:205.5px;font-size:17px;line-height:22px;color:#636363;">1105.84</div>
<div class="t" style="left:1435.0px;width:90px;text-align:center;top:205.5px;font-size:17px;line-height:22px;color:#636363;">1105.84</div>
<div class="t" style="left:265.0px;width:90px;text-align:center;top:295.5px;font-size:17px;line-height:22px;color:#636363;">1068.71</div>
<div class="t" style="left:1435.0px;width:90px;text-align:center;top:295.5px;font-size:17px;line-height:22px;color:#636363;">1068.71</div>
<div class="t" style="left:265.0px;width:90px;text-align:center;top:385.5px;font-size:17px;line-height:22px;color:#636363;">1031.58</div>
<div class="t" style="left:1435.0px;width:90px;text-align:center;top:385.5px;font-size:17px;line-height:22px;color:#636363;">1031.58</div>
<div class="t" style="left:265.0px;width:90px;text-align:center;top:475.5px;font-size:17px;line-height:22px;color:#636363;">994.46</div>
<div class="t" style="left:1435.0px;width:90px;text-align:center;top:475.5px;font-size:17px;line-height:22px;color:#636363;">994.46</div>
<div class="t" style="left:265.0px;width:90px;text-align:center;top:565.5px;font-size:17px;line-height:22px;color:#636363;">957.34</div>
<div class="t" style="left:1435.0px;width:90px;text-align:center;top:565.5px;font-size:17px;line-height:22px;color:#636363;">957.34</div>
<div class="t" style="left:265.0px;width:90px;text-align:center;top:655.5px;font-size:17px;line-height:22px;color:#636363;">920.21</div>
<div class="t" style="left:1435.0px;width:90px;text-align:center;top:655.5px;font-size:17px;line-height:22px;color:#636363;">920.21</div>
<div class="t" style="left:265.0px;width:90px;text-align:center;top:745.5px;font-size:17px;line-height:22px;color:#636363;">883.08</div>
<div class="t" style="left:1435.0px;width:90px;text-align:center;top:745.5px;font-size:17px;line-height:22px;color:#636363;">883.08</div>
<div class="t" style="left:265.0px;width:90px;text-align:center;top:835.5px;font-size:17px;line-height:22px;color:#636363;">845.96</div>
<div class="t" style="left:1435.0px;width:90px;text-align:center;top:835.5px;font-size:17px;line-height:22px;color:#636363;">845.96</div>
<div class="t" style="left:265.0px;width:90px;text-align:center;top:856.5px;font-size:17px;line-height:22px;color:#636363;">22.35億</div>
<div class="t" style="left:1435.0px;width:90px;text-align:center;top:856.5px;font-size:17px;line-height:22px;color:#636363;">22.35億</div>
<div class="t" style="left:265.0px;width:90px;text-align:center;top:906.2px;font-size:17px;line-height:22px;color:#636363;">16.76億</div>
<div class="t" style="left:1435.0px;width:90px;text-align:center;top:906.2px;font-size:17px;line-height:22px;color:#636363;">16.76億</div>
<div class="t" style="left:265.0px;width:90px;text-align:center;top:956.0px;font-size:17px;line-height:22px;color:#636363;">11.17億</div>
<div class="t" style="left:1435.0px;width:90px;text-align:center;top:956.0px;font-size:17px;line-height:22px;color:#636363;">11.17億</div>
<div class="t" style="left:265.0px;width:90px;text-align:center;top:1005.8px;font-size:17px;line-height:22px;color:#636363;">5.59億</div>
<div class="t" style="left:1435.0px;width:90px;text-align:center;top:1005.8px;font-size:17px;line-height:22px;color:#636363;">5.59億</div>
<div class="t" style="left:280.0px;width:60px;text-align:center;top:1048.0px;font-size:17px;line-height:22px;color:#636363;">金額</div>
<div class="t" style="left:1450.0px;width:60px;text-align:center;top:1048.0px;font-size:17px;line-height:22px;color:#636363;">金額</div>
<div class="b" style="left:261px;top:339px;width:87px;height:38px;background:#f0f0f0;border-radius:10px;"></div>
<div class="t" style="left:261.0px;width:87px;text-align:center;top:349.2px;font-size:17px;line-height:22px;color:#636363;">1046.85</div>
<div class="b" style="left:1441.5px;top:339px;width:87.0px;height:38px;background:#f0f0f0;border-radius:10px;"></div>
<div class="t" style="left:1441.5px;width:87px;text-align:center;top:349.2px;font-size:17px;line-height:22px;color:#636363;">1046.85</div>
<div class="b" style="left:361px;top:136px;width:248px;height:427px;background:rgba(240,240,240,0.97);border-radius:8px;"></div>
<div class="t" style="left:365.5px;top:146.0px;font-size:17px;line-height:22px;color:#636363;">始値</div>
<div class="t" style="left:484.5px;width:120px;text-align:right;top:146.0px;font-size:17px;line-height:22px;color:#6abf6a;">1062.66</div>
<div class="t" style="left:365.5px;top:176.0px;font-size:17px;line-height:22px;color:#636363;">高値</div>
<div class="t" style="left:484.5px;width:120px;text-align:right;top:176.0px;font-size:17px;line-height:22px;color:#c06c6c;">1064.06</div>
<div class="t" style="left:365.5px;top:206.0px;font-size:17px;line-height:22px;color:#636363;">安値</div>
<div class="t" style="left:484.5px;width:120px;text-align:right;top:206.0px;font-size:17px;line-height:22px;color:#6abf6a;">1050.22</div>
<div class="t" style="left:365.5px;top:236.0px;font-size:17px;line-height:22px;color:#636363;">終値</div>
<div class="t" style="left:484.5px;width:120px;text-align:right;top:236.0px;font-size:17px;line-height:22px;color:#6abf6a;">1052.29</div>
<div class="t" style="left:365.5px;top:266.0px;font-size:17px;line-height:22px;color:#636363;">値動率</div>
<div class="t" style="left:484.5px;width:120px;text-align:right;top:266.0px;font-size:17px;line-height:22px;color:#6abf6a;">-1.02%</div>
<div class="t" style="left:365.5px;top:296.0px;font-size:17px;line-height:22px;color:#636363;">振れ幅</div>
<div class="t" style="left:484.5px;width:120px;text-align:right;top:296.0px;font-size:17px;line-height:22px;color:#636363;">1.30%</div>
<div class="t" style="left:365.5px;top:326.0px;font-size:17px;line-height:22px;color:#636363;">出来高</div>
<div class="t" style="left:484.5px;width:120px;text-align:right;top:326.0px;font-size:17px;line-height:22px;color:#636363;">25.41万</div>
<div class="t" style="left:365.5px;top:356.0px;font-size:17px;line-height:22px;color:#636363;">売買代金</div>
<div class="t" style="left:484.5px;width:120px;text-align:right;top:356.0px;font-size:17px;line-height:22px;color:#636363;">5.07億</div>
<div class="t" style="left:365.5px;top:386.0px;font-size:17px;line-height:22px;color:#636363;">換金率</div>
<div class="t" style="left:484.5px;width:120px;text-align:right;top:386.0px;font-size:17px;line-height:22px;color:#636363;">1.87%</div>
<div class="t" style="left:365.5px;top:416.0px;font-size:17px;line-height:22px;color:#636363;">MA5</div>
<div class="t" style="left:484.5px;width:120px;text-align:right;top:416.0px;font-size:17px;line-height:22px;color:#636363;">1058.76</div>
<div class="t" style="left:365.5px;top:446.0px;font-size:17px;line-height:22px;color:#e8a15a;">MA10</div>
<div class="t" style="left:484.5px;width:120px;text-align:right;top:446.0px;font-size:17px;line-height:22px;color:#e8a15a;">1072.83</div>
<div class="t" style="left:365.5px;top:476.0px;font-size:17px;line-height:22px;color:#e890d6;">MA20</div>
<div class="t" style="left:484.5px;width:120px;text-align:right;top:476.0px;font-size:17px;line-height:22px;color:#e890d6;">1060.76</div>
<div class="t" style="left:365.5px;top:506.0px;font-size:17px;line-height:22px;color:#74c874;">MA30</div>
<div class="t" style="left:484.5px;width:120px;text-align:right;top:506.0px;font-size:17px;line-height:22px;color:#74c874;">1040.30</div>
<div class="t" style="left:365.5px;top:536.0px;font-size:17px;line-height:22px;color:#5b93dc;">MA60</div>
<div class="t" style="left:484.5px;width:120px;text-align:right;top:536.0px;font-size:17px;line-height:22px;color:#5b93dc;">984.69</div>
</body></html>
